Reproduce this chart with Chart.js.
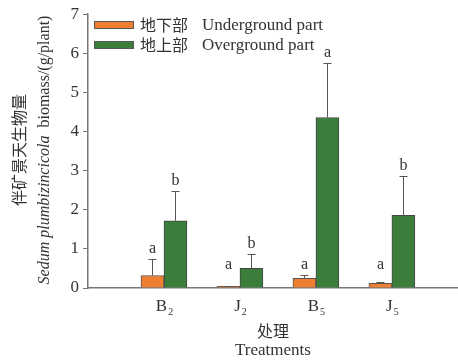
<!DOCTYPE html>
<html>
<head>
<meta charset="utf-8">
<script src="https://cdn.jsdelivr.net/npm/chart.js@4/dist/chart.umd.min.js"></script>
<style>
  body { margin: 0; background: #fff; }
  #wrap { width: 458px; height: 362px; }
</style>
</head>
<body>
<div id="wrap"><canvas id="myChart"></canvas></div>
<script>
// dados
const categories = ['B', 'J', 'B', 'J'];
const subscripts = ['2', '2', '5', '5'];
const seriesNames = ['地下部', '地上部'];
const seriesNamesEn = ['Underground part', 'Overground part'];
const underground = [0.32, 0.04, 0.25, 0.12];
const undergroundErr = [0.41, 0.02, 0.07, 0.03];
const overground = [1.72, 0.50, 4.36, 1.86];
const overgroundErr = [0.77, 0.36, 1.40, 1.01];
const undergroundLetters = ['a', 'a', 'a', 'a'];
const overgroundLetters = ['b', 'b', 'a', 'b'];
const yTicks = [0, 1, 2, 3, 4, 5, 6, 7];

const serif = '"Liberation Serif", "Times New Roman", serif';
const cjk = '"Noto Sans CJK SC", sans-serif';
const textColor = '#333';

// barras de erro + letras
const errorBars = {
  id: 'errorBars',
  afterDatasetsDraw(chart) {
    const ctx = chart.ctx;
    const y = chart.scales.y;
    const errs = [undergroundErr, overgroundErr];
    const vals = [underground, overground];
    const letters = [undergroundLetters, overgroundLetters];
    ctx.save();
    ctx.strokeStyle = '#555';
    ctx.lineWidth = 1;
    ctx.fillStyle = textColor;
    ctx.font = '16px ' + serif;
    ctx.textAlign = 'center';
    ctx.textBaseline = 'bottom';
    chart.data.datasets.forEach((ds, d) => {
      const meta = chart.getDatasetMeta(d);
      meta.data.forEach((bar, i) => {
        const top = vals[d][i] + errs[d][i];
        const yTop = Math.round(y.getPixelForValue(top)) + 0.5;
        const x = Math.round(bar.x) + 0.5;
        ctx.beginPath();
        ctx.moveTo(x, bar.y);
        ctx.lineTo(x, yTop);
        ctx.moveTo(x - 4, yTop);
        ctx.lineTo(x + 4, yTop);
        ctx.stroke();
        const labelY = Math.min(yTop, y.getPixelForValue(0.32)) - 3;
        ctx.fillText(letters[d][i], x, labelY);
      });
    });
    ctx.restore();
  }
};

// legenda, títulos e rótulos do eixo x
const decorations = {
  id: 'decorations',
  afterDraw(chart) {
    const ctx = chart.ctx;
    const x = chart.scales.x;
    ctx.save();
    ctx.fillStyle = textColor;

    // rótulos com subscrito
    categories.forEach((c, i) => {
      const px = x.getPixelForValue(i + 1);
      ctx.font = '17px ' + serif;
      const w1 = ctx.measureText(c).width;
      ctx.font = '10px ' + serif;
      const w2 = ctx.measureText(subscripts[i]).width;
      const start = px - (w1 + w2) / 2;
      ctx.textBaseline = 'alphabetic';
      ctx.textAlign = 'left';
      ctx.font = '17px ' + serif;
      ctx.fillText(c, start, 311);
      ctx.font = '10px ' + serif;
      ctx.fillText(subscripts[i], start + w1 + 1, 315);
    });

    // título do eixo x
    ctx.textAlign = 'center';
    ctx.textBaseline = 'middle';
    ctx.font = '16px ' + cjk;
    ctx.fillText('处理', 273, 331);
    ctx.font = '17px ' + serif;
    ctx.fillText('Treatments', 273, 351);

    // título do eixo y (duas linhas, girado)
    ctx.save();
    ctx.translate(19, 150);
    ctx.rotate(-Math.PI / 2);
    ctx.font = '16px ' + cjk;
    ctx.fillText('伴矿景天生物量', 0, 0);
    ctx.restore();

    ctx.save();
    ctx.translate(45, 150);
    ctx.rotate(-Math.PI / 2);
    const italic = 'Sedum plumbizincicola';
    const rest = '  biomass/(g/plant)';
    ctx.font = 'italic 16px ' + serif;
    const wi = ctx.measureText(italic).width;
    ctx.font = '16px ' + serif;
    const wr = ctx.measureText(rest).width;
    ctx.textAlign = 'left';
    const s = -(wi + wr) / 2;
    ctx.font = 'italic 16px ' + serif;
    ctx.fillText(italic, s, 0);
    ctx.font = '16px ' + serif;
    ctx.fillText(rest, s + wi, 0);
    ctx.restore();

    // legenda
    ctx.textAlign = 'left';
    ctx.textBaseline = 'middle';
    chart.data.datasets.forEach((ds, d) => {
      const ly = 25 + d * 20;
      ctx.fillStyle = ds.backgroundColor;
      ctx.fillRect(94.5, ly - 3.5, 39, 7);
      ctx.strokeStyle = '#555';
      ctx.lineWidth = 1;
      ctx.strokeRect(94.5, ly - 3.5, 39, 7);
      ctx.fillStyle = textColor;
      ctx.font = '16px ' + cjk;
      ctx.fillText(seriesNames[d], 140, ly);
      ctx.font = '17px ' + serif;
      ctx.fillText(seriesNamesEn[d], 202, ly + 1);
    });
    ctx.restore();
  }
};

const ctx = document.getElementById('myChart').getContext('2d');
new Chart(ctx, {
  type: 'bar',
  data: {
    datasets: [
      {
        label: seriesNames[0] + ' ' + seriesNamesEn[0],
        data: underground.map((v, i) => ({ x: i + 1, y: v })),
        backgroundColor: '#EE7F30',
        borderColor: '#555',
        borderWidth: 1,
        barThickness: 23
      },
      {
        label: seriesNames[1] + ' ' + seriesNamesEn[1],
        data: overground.map((v, i) => ({ x: i + 1, y: v })),
        backgroundColor: '#3B7D3B',
        borderColor: '#444',
        borderWidth: 1,
        barThickness: 23
      }
    ]
  },
  options: {
    responsive: true,
    maintainAspectRatio: false,
    animation: false,
    layout: { padding: { top: 13, right: 0, left: 0, bottom: 0 } },
    plugins: { legend: { display: false }, tooltip: { enabled: false } },
    scales: {
      x: {
        type: 'linear',
        offset: false,
        min: 0,
        max: 4.87,
        grid: { display: false, drawTicks: false },
        border: { color: '#777', width: 1.5 },
        ticks: { display: false },
        afterFit(scale) { scale.height = 74; }
      },
      y: {
        min: 0,
        max: 7,
        afterBuildTicks(scale) { scale.ticks = yTicks.map(v => ({ value: v })); },
        grid: { drawOnChartArea: false, tickLength: 5, color: '#777' },
        border: { color: '#777', width: 1.5 },
        ticks: { color: textColor, font: { family: serif, size: 17 }, padding: 4 },
        afterFit(scale) { scale.width = 88; }
      }
    }
  },
  plugins: [errorBars, decorations]
});
</script>
</body>
</html>
